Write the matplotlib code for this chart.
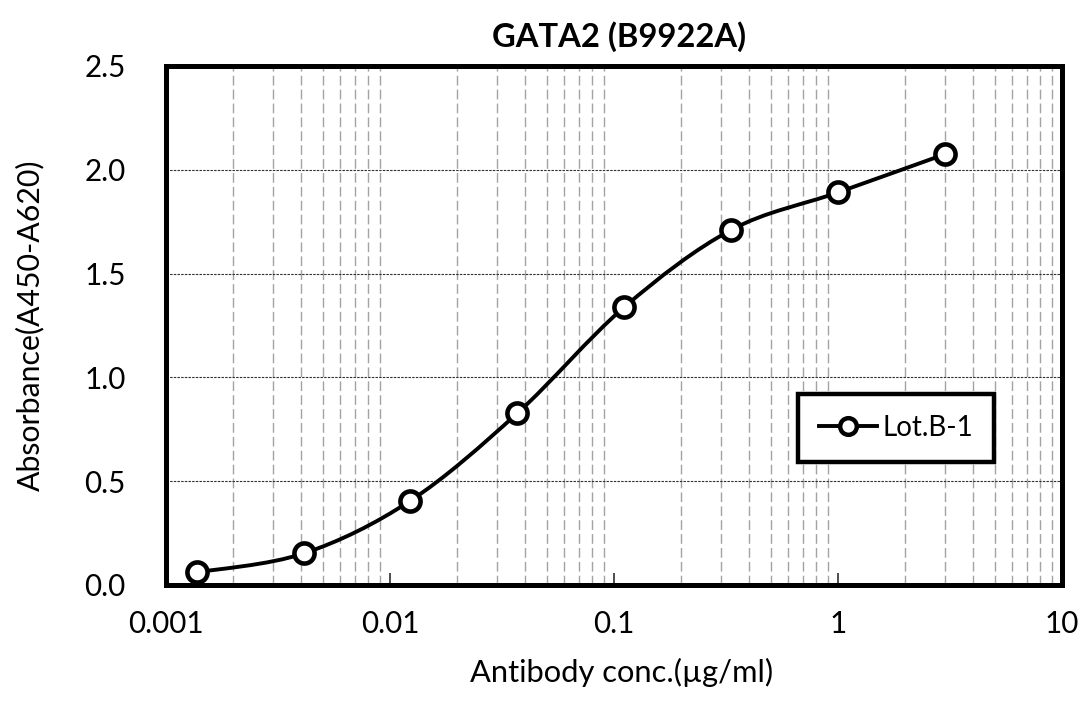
import numpy as np
import matplotlib
matplotlib.use("Agg")
import matplotlib.pyplot as plt
from matplotlib.path import Path
from matplotlib.patches import PathPatch
from matplotlib.lines import Line2D
from matplotlib.ticker import FixedLocator, FuncFormatter, LogLocator

plt.rcParams['font.family'] = ['Lato', 'DejaVu Sans']

# data
conc = [0.00137, 0.00412, 0.0123, 0.037, 0.111, 0.333, 1.0, 3.0]
absorbance = [0.061, 0.152, 0.405, 0.827, 1.338, 1.71, 1.891, 2.075]
series_name = "Lot.B-1"
x_ticks = [0.001, 0.01, 0.1, 1, 10]
y_ticks = [0.0, 0.5, 1.0, 1.5, 2.0, 2.5]


def smooth_path(xs, ys):
    # Excel-like smoothed line: cubic bezier segments in log10(x) space
    lx = np.log10(xs)
    ys = np.asarray(ys, float)
    pts = np.column_stack([lx, ys])
    n = len(pts)
    verts = [pts[0]]
    codes = [Path.MOVETO]
    for i in range(n - 1):
        p0 = pts[i - 1] if i > 0 else pts[i]
        p1 = pts[i]
        p2 = pts[i + 1]
        p3 = pts[i + 2] if i + 2 < n else pts[i + 1]
        c1 = p1 + (p2 - p0) / 6.0
        c2 = p2 - (p3 - p1) / 6.0
        verts += [c1, c2, p2]
        codes += [Path.CURVE4] * 3
    verts = np.array(verts)
    verts[:, 0] = 10 ** verts[:, 0]
    return Path(verts, codes)


fig = plt.figure(figsize=(10.83, 7.02), dpi=100)
ax = fig.add_axes([0.1533, 0.1667, 0.8273, 0.7393])

ax.set_xscale('log')
ax.set_xlim(0.001, 10)
ax.set_ylim(0, 2.5)

ax.add_patch(PathPatch(smooth_path(conc, absorbance), fill=False,
                       edgecolor='black', lw=2.8, zorder=3, capstyle='round'))
ax.plot(conc, absorbance, linestyle='none', marker='o', markersize=14.5,
        markerfacecolor='white', markeredgecolor='black', markeredgewidth=3.3,
        zorder=4)

ax.xaxis.set_major_locator(FixedLocator(x_ticks))
ax.xaxis.set_major_formatter(FuncFormatter(lambda v, p: '%g' % v))
ax.xaxis.set_minor_locator(LogLocator(base=10, subs=np.arange(2, 10)))
ax.xaxis.set_minor_formatter(FuncFormatter(lambda v, p: ''))
ax.yaxis.set_major_locator(FixedLocator(y_ticks))
ax.yaxis.set_major_formatter(FuncFormatter(lambda v, p: '%.1f' % v))

ax.grid(which='minor', axis='x', color='#a3a3a3', linestyle=(0, (7, 3)), lw=1.0)
ax.grid(which='major', axis='y', color='#303030', linestyle=(0, (2.2, 1.1)), lw=0.8)

ax.tick_params(axis='x', which='major', direction='in', length=9, width=1.3,
               color='#404040', labelsize=21.3, pad=18)
ax.tick_params(axis='x', which='minor', length=0)
ax.tick_params(axis='y', which='major', length=0, labelsize=21.3, pad=29)

for s in ax.spines.values():
    s.set_linewidth(3.6)
    s.set_color('black')
    s.set_capstyle('projecting')

ax.set_title("GATA2 (B9922A)", fontsize=23.6, fontweight='bold', pad=14, x=0.506)
ax.set_xlabel("Antibody conc.(µg/ml)", fontsize=22.2)
ax.set_ylabel("Absorbance(A450-A620)", fontsize=21.8)
ax.xaxis.set_label_coords(0.508, -0.14)
ax.yaxis.set_label_coords(-0.136, 0.5)

handle = Line2D([], [], color='black', lw=2.8, marker='o', markersize=12,
                markerfacecolor='white', markeredgecolor='black', markeredgewidth=3.2)
leg = ax.legend([handle], [series_name], loc='center', bbox_to_anchor=(0.815, 0.3025),
                fontsize=20, frameon=True, fancybox=False, framealpha=1,
                handlelength=2.1, handletextpad=0.2, borderpad=0.75,
                borderaxespad=0)
leg.get_frame().set_edgecolor('black')
leg.get_frame().set_linewidth(3.2)

fig.savefig('out.png', dpi=100)
